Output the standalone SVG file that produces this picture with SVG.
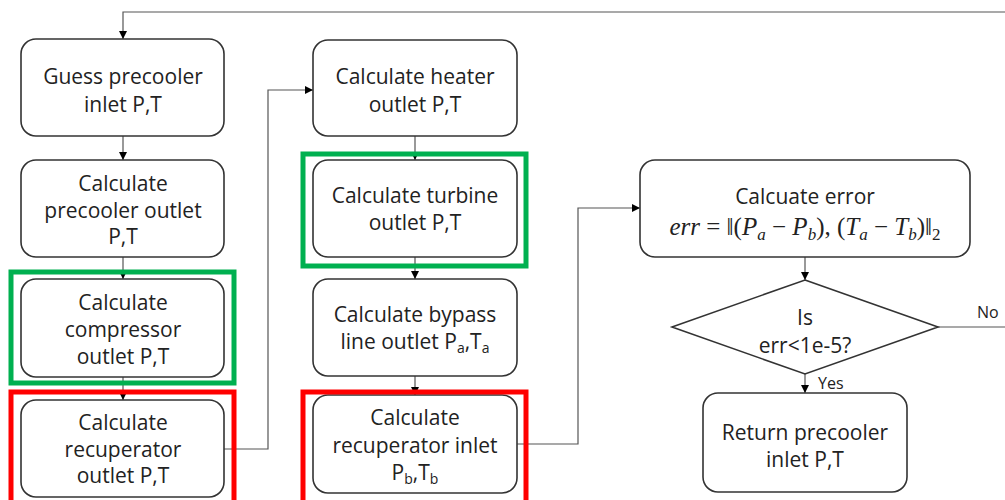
<svg xmlns="http://www.w3.org/2000/svg" width="1005" height="500" viewBox="0 0 1005 500">
<defs>
<marker id="arr" markerWidth="10" markerHeight="10" refX="9" refY="5" orient="auto" markerUnits="userSpaceOnUse">
<path d="M1,1 L9,5 L1,9 Z" fill="#000"/>
</marker>
<style>
.box{fill:#fff;stroke:#333;stroke-width:1.6}
.t{font-family:"Open Sans","Noto Sans",sans-serif;font-size:21px;fill:#222;text-anchor:middle}
.c{fill:none;stroke:#555;stroke-width:1.2}
.g{fill:none;stroke:#00b050;stroke-width:5}
.r{fill:none;stroke:#ff0000;stroke-width:5}
.m{font-family:"Liberation Serif",serif;font-size:25px;fill:#222;text-anchor:middle}
.lbl{font-family:"Open Sans","Noto Sans",sans-serif;font-size:16px;fill:#222}
</style>
</defs>
<rect width="1005" height="500" fill="#fff"/>
<g id="connectors">
<path class="c" d="M1005,12 H123 V39" marker-end="url(#arr)"/>
<path class="c" d="M123,136 V160" marker-end="url(#arr)"/>
<path class="c" d="M123,257 V279" marker-end="url(#arr)"/>
<path class="c" d="M123,377 V400" marker-end="url(#arr)"/>
<path class="c" d="M224,449 H268 V90 H313" marker-end="url(#arr)"/>
<path class="c" d="M415,136 V160" marker-end="url(#arr)"/>
<path class="c" d="M415,257 V279" marker-end="url(#arr)"/>
<path class="c" d="M415,376 V395" marker-end="url(#arr)"/>
<path class="c" d="M517,444 H578 V208 H640" marker-end="url(#arr)"/>
<path class="c" d="M805,257 V280" marker-end="url(#arr)"/>
<path class="c" d="M805,374 V393" marker-end="url(#arr)"/>
<path class="c" d="M938,327 H1005"/>
<text class="lbl" x="818" y="389">Yes</text>
<text class="lbl" x="977" y="318">No</text>
</g>
<g id="n1">
<rect class="box" x="21" y="39" width="203" height="97" rx="15"/>
<text class="t" x="123" y="84">Guess precooler</text>
<text class="t" x="123" y="112">inlet P,T</text>
</g>
<g id="n2">
<rect class="box" x="21" y="160" width="203" height="97" rx="15"/>
<text class="t" x="123" y="191">Calculate</text>
<text class="t" x="123" y="218">precooler outlet</text>
<text class="t" x="123" y="244">P,T</text>
</g>
<g id="n3">
<rect class="box" x="21" y="279" width="203" height="98" rx="15"/>
<text class="t" x="123" y="310">Calculate</text>
<text class="t" x="123" y="337">compressor</text>
<text class="t" x="123" y="364">outlet P,T</text>
<rect class="g" x="11" y="272" width="223" height="111"/>
</g>
<g id="n4">
<rect class="box" x="21" y="400" width="203" height="97" rx="15"/>
<text class="t" x="123" y="430">Calculate</text>
<text class="t" x="123" y="457">recuperator</text>
<text class="t" x="123" y="483">outlet P,T</text>
<rect class="r" x="11" y="392" width="223" height="112"/>
</g>
<g id="n5">
<rect class="box" x="313" y="40" width="204" height="96" rx="15"/>
<text class="t" x="415" y="84">Calculate heater</text>
<text class="t" x="415" y="112">outlet P,T</text>
</g>
<g id="n6">
<rect class="box" x="313" y="160" width="204" height="97" rx="15"/>
<text class="t" x="415" y="203">Calculate turbine</text>
<text class="t" x="415" y="230">outlet P,T</text>
<rect class="g" x="303" y="154" width="223" height="112"/>
</g>
<g id="n7">
<rect class="box" x="313" y="279" width="204" height="97" rx="15"/>
<text class="t" x="415" y="322">Calculate bypass</text>
<text class="t" x="415" y="349">line outlet P<tspan font-size="14" dy="4">a</tspan><tspan dy="-4">,T</tspan><tspan font-size="14" dy="4">a</tspan></text>
</g>
<g id="n8">
<rect class="box" x="313" y="395" width="204" height="98" rx="15"/>
<text class="t" x="415" y="425">Calculate</text>
<text class="t" x="415" y="453">recuperator inlet</text>
<text class="t" x="415" y="480">P<tspan font-size="14" dy="4">b</tspan><tspan dy="-4">,T</tspan><tspan font-size="14" dy="4">b</tspan></text>
<rect class="r" x="303" y="392" width="223" height="112"/>
</g>
<g id="n9">
<rect class="box" x="640" y="160" width="330" height="97" rx="15"/>
<text class="t" x="805" y="204">Calcuate error</text>
<text class="m" x="805" y="235"><tspan font-style="italic">err</tspan> = ‖(<tspan font-style="italic">P</tspan><tspan font-style="italic" font-size="17" dy="5">a</tspan><tspan dy="-5"> − </tspan><tspan font-style="italic">P</tspan><tspan font-style="italic" font-size="17" dy="5">b</tspan><tspan dy="-5">), (</tspan><tspan font-style="italic">T</tspan><tspan font-style="italic" font-size="17" dy="5">a</tspan><tspan dy="-5"> − </tspan><tspan font-style="italic">T</tspan><tspan font-style="italic" font-size="17" dy="5">b</tspan><tspan dy="-5">)‖</tspan><tspan font-size="17" dy="5">2</tspan></text>
</g>
<g id="n10">
<path class="box" d="M805,280 L938,327 L805,374 L672,327 Z"/>
<text class="t" x="805" y="325">Is</text>
<text class="t" x="805" y="353">err&lt;1e-5?</text>
</g>
<g id="n11">
<rect class="box" x="703" y="393" width="204" height="99" rx="15"/>
<text class="t" x="805" y="440">Return precooler</text>
<text class="t" x="805" y="467">inlet P,T</text>
</g>
</svg>
